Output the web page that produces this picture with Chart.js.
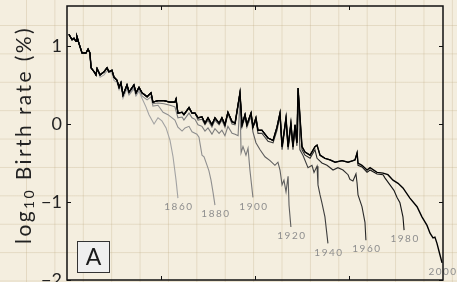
<!DOCTYPE html>
<html>
<head>
<meta charset="utf-8">
<script src="https://cdn.jsdelivr.net/npm/chart.js@4/dist/chart.umd.min.js"></script>
<style>
  html, body { margin: 0; padding: 0; }
  body {
    width: 457px; height: 282px; overflow: hidden;
    background-color: #f4eedf;
    background-image:
      linear-gradient(to right, rgba(190,170,130,0.30) 1px, transparent 1px),
      linear-gradient(to bottom, rgba(190,170,130,0.30) 1px, transparent 1px);
    background-size: 28.4px 28.4px;
    background-position: 26px 25px;
  }
  canvas { display: block; }
</style>
</head>
<body>
<canvas id="Chart" width="457" height="282"></canvas>
<script>
// overall curve (the 2000 series)
let envYears = [1801, 1802.7, 1803.7, 1804.8, 1805.3, 1806.4, 1808, 1810.1, 1811.2, 1812.2, 1812.8, 1814.4, 1815.4, 1816, 1817.6, 1819.7,
  1821.3, 1822.3, 1823.9, 1825, 1826.6, 1827.7, 1828.7, 1829.8, 1831.9, 1833, 1835.6, 1836.7, 1838.3, 1839.9, 1842.6, 1844.7,
  1845.7, 1848.4, 1851.6, 1854.8, 1857.4, 1858, 1859, 1861.2, 1862.2, 1864.9, 1866.5, 1868.1, 1869.7, 1871.8, 1873.4, 1875,
  1877.1, 1878.7, 1880.9, 1882.4, 1884, 1885.6, 1887.8, 1889.4, 1892, 1893.1, 1894.7, 1895.7, 1897.9, 1898.9, 1900.5, 1901.6,
  1903.7, 1905.3, 1906.9, 1909.6, 1911.7, 1913.3, 1914.4, 1916.5, 1917.6, 1919.1, 1920.2, 1921.3, 1922.3, 1922.9, 1925, 1926.6,
  1929.3, 1931.9, 1933, 1934.6, 1937.2, 1939.9, 1942.6, 1946.3, 1949.5, 1952.1, 1953.2, 1954.3, 1954.8, 1956.9, 1959.6, 1961.2,
  1964.9, 1968.1, 1970.7, 1973.4, 1976.1, 1978.7, 1982.4, 1986.2, 1988.8, 1991.5, 1993.1, 1994.7, 1995.7, 1996.8, 1998.4, 1999.5];
let envValues = [1.15, 1.08, 1.10, 1.06, 1.12, 1.03, 0.91, 0.91, 0.96, 0.91, 0.72, 0.67, 0.63, 0.71, 0.63, 0.67,
  0.72, 0.67, 0.69, 0.60, 0.56, 0.47, 0.53, 0.37, 0.50, 0.41, 0.50, 0.40, 0.47, 0.40, 0.35, 0.40,
  0.28, 0.30, 0.30, 0.28, 0.28, 0.32, 0.14, 0.15, 0.12, 0.21, 0.14, 0.14, 0.08, 0.09, 0.01, 0.08,
  -0.01, 0.08, 0.01, 0.08, -0.01, 0.15, 0.03, 0.01, 0.40, -0.01, 0.12, -0.01, 0.14, -0.04, 0.08, -0.08,
  -0.08, -0.13, -0.18, -0.21, -0.04, 0.14, -0.29, 0.08, -0.29, 0.01, -0.29, -0.01, -0.24, 0.46, -0.29, -0.36,
  -0.40, -0.29, -0.27, -0.40, -0.44, -0.46, -0.49, -0.47, -0.49, -0.47, -0.46, -0.37, -0.50, -0.53, -0.59, -0.56,
  -0.62, -0.63, -0.65, -0.72, -0.76, -0.82, -0.95, -1.06, -1.19, -1.30, -1.40, -1.46, -1.45, -1.53, -1.68, -1.78];

// where each earlier series leaves the overall curve: [year, value]
let tail1860 = [[1817.6, 0.60], [1819.7, 0.63], [1821.3, 0.68], [1823.9, 0.65], [1825, 0.56], [1826.6, 0.53], [1827.7, 0.44],
  [1828.7, 0.49], [1829.8, 0.33], [1831.9, 0.45], [1833, 0.37], [1835.6, 0.45], [1836.7, 0.36], [1838.3, 0.42], [1839.9, 0.33],
  [1842, 0.22], [1843.6, 0.12], [1846.3, 0.00], [1848.4, 0.08], [1850.5, 0.04], [1852.7, -0.05], [1854.8, -0.21], [1856.4, -0.42],
  [1858, -0.72], [1859, -0.95]];
let tail1880 = [[1831.9, 0.47], [1833, 0.38], [1835.6, 0.47], [1836.7, 0.37], [1838.3, 0.45], [1839.9, 0.36], [1842.6, 0.31],
  [1844.7, 0.35], [1845.7, 0.23], [1848.4, 0.24], [1851.1, 0.15], [1853.7, 0.12], [1857.4, 0.05], [1859, -0.04], [1861.2, -0.09],
  [1862.8, -0.05], [1864.9, -0.03], [1866.5, -0.10], [1869.1, -0.13], [1870.2, -0.17], [1871.8, -0.40], [1872.9, -0.42],
  [1874.5, -0.53], [1875.5, -0.60], [1876.6, -0.72], [1877.7, -0.88], [1878.7, -1.04]];
let tail1900 = [[1845.7, 0.26], [1848.4, 0.27], [1851.6, 0.26], [1854.8, 0.24], [1857.4, 0.22], [1859, 0.08], [1861.2, 0.09],
  [1862.2, 0.05], [1864.9, 0.14], [1866.5, 0.08], [1868.1, 0.06], [1869.7, -0.01], [1871.8, -0.03], [1873.4, -0.09], [1875, -0.05],
  [1877.1, -0.13], [1878.7, -0.06], [1880.9, -0.12], [1882.4, -0.08], [1884, -0.15], [1885.6, -0.03], [1887.8, -0.12],
  [1889.4, -0.13], [1891, -0.15], [1892, 0.31], [1892.6, -0.37], [1893.6, -0.29], [1895.2, -0.40], [1896.3, -0.31],
  [1897.3, -0.59], [1898.9, -0.94]];
let tail1920 = [[1869.7, 0.05], [1871.8, 0.06], [1873.4, -0.01], [1875, 0.05], [1877.1, -0.04], [1878.7, 0.05], [1880.9, -0.01],
  [1882.4, 0.05], [1884, -0.04], [1885.6, 0.13], [1887.8, 0.00], [1889.4, -0.01], [1892, 0.36], [1893.1, -0.04], [1894.7, 0.09],
  [1895.7, -0.04], [1897.9, 0.10], [1898.9, -0.10], [1900.5, -0.24], [1902.7, -0.33], [1905.3, -0.42], [1908, -0.47],
  [1910.6, -0.53], [1912.2, -0.49], [1913.3, -0.59], [1914.4, -0.78], [1915.4, -0.72], [1916.5, -0.87], [1917.6, -0.67],
  [1918.1, -1.04], [1919.1, -1.32]];
let tail1940 = [[1900.5, 0.04], [1901.6, -0.12], [1903.7, -0.12], [1905.3, -0.17], [1906.9, -0.22], [1909.6, -0.24], [1911.7, -0.08],
  [1913.3, 0.10], [1914.4, -0.33], [1916.5, 0.04], [1917.6, -0.33], [1919.1, -0.03], [1920.2, -0.33], [1921.3, -0.05],
  [1922.3, -0.28], [1922.9, 0.42], [1923.9, -0.33], [1925.5, -0.40], [1928.2, -0.56], [1930.3, -0.53], [1931.4, -0.62],
  [1933, -0.54], [1933.5, -0.78], [1934.6, -0.91], [1935.6, -1.01], [1937.2, -1.19], [1938.8, -1.53]];
let tail1960 = [[1925, -0.33], [1926.6, -0.40], [1929.3, -0.44], [1931.9, -0.33], [1933, -0.44], [1935.6, -0.50], [1938.3, -0.53],
  [1941.5, -0.59], [1944.1, -0.56], [1946.8, -0.59], [1949.5, -0.65], [1950.5, -0.71], [1952.1, -0.73], [1953.7, -0.64],
  [1954.3, -0.76], [1954.8, -0.91], [1956.9, -1.06], [1958.5, -1.26], [1959, -1.49]];
let tail1980 = [[1954.8, -0.53], [1956.9, -0.55], [1959.6, -0.62], [1961.2, -0.59], [1964.9, -0.64], [1968.1, -0.65],
  [1969.1, -0.69], [1971.8, -0.78], [1973.9, -0.85], [1975.5, -0.94], [1977.1, -1.01], [1978.7, -1.19], [1979.3, -1.36]];

let cohortLabels = ['1860', '1880', '1900', '1920', '1940', '1960', '1980', '2000'];
let cohortTails = [tail1860, tail1880, tail1900, tail1920, tail1940, tail1960, tail1980, null];
let yTicks = [-2, -1, 0, 1];
let xTicks = [1850, 1900, 1950];

let lineColors = ['#a3a3a3', '#909090', '#7c7c7c', '#5e5e5e', '#3e3e3e', '#2a2a2a', '#161616', '#000000'];

function buildSeries(tail) {
    let pts = [];
    let start = tail ? tail[0][0] : Infinity;
    envYears.forEach(function (x, i) {
        if (x < start) pts.push({ x: x, y: envValues[i] });
    });
    if (tail) tail.forEach(function (p) { pts.push({ x: p[0], y: p[1] }); });
    return pts;
}

let datasets = cohortLabels.map(function (lab, i) {
    return {
        label: lab,
        data: buildSeries(cohortTails[i]),
        borderColor: lineColors[i],
        borderWidth: i == 7 ? 1.4 : 1.1,
        pointRadius: 0,
        tension: 0,
        fill: false,
        order: 7 - i
    };
});

function tickText(v) { return v < 0 ? '\u2212' + Math.abs(v) : String(v); }

// frame, inward ticks, tick labels, y title, cohort labels and the "A" box
const decorations = {
    id: 'decorations',
    afterDatasetsDraw(chart) {
        const ctx = chart.ctx;
        const xs = chart.scales.x, ys = chart.scales.y;
        ctx.save();
        ctx.font = '10px Lato';
        ctx.letterSpacing = '1.5px';
        ctx.fillStyle = '#8e8e8e';
        ctx.textAlign = 'center';
        ctx.textBaseline = 'middle';
        chart.data.datasets.forEach(function (ds) {
            let last = ds.data[ds.data.length - 1];
            ctx.fillText(ds.label, xs.getPixelForValue(last.x) + 1, ys.getPixelForValue(last.y) + 9);
        });
        ctx.restore();
    },
    afterDraw(chart) {
        const ctx = chart.ctx, a = chart.chartArea;
        const xs = chart.scales.x, ys = chart.scales.y;
        ctx.save();
        ctx.strokeStyle = '#111';
        ctx.lineWidth = 1.5;
        ctx.strokeRect(a.left, a.top, a.right - a.left, a.bottom - a.top);
        ctx.lineWidth = 1;
        ctx.beginPath();
        yTicks.forEach(function (v) {
            let y = Math.round(ys.getPixelForValue(v)) + 0.5;
            ctx.moveTo(a.left, y); ctx.lineTo(a.left + 4, y);
            ctx.moveTo(a.right, y); ctx.lineTo(a.right - 4, y);
        });
        xTicks.forEach(function (v) {
            let x = Math.round(xs.getPixelForValue(v)) + 0.5;
            ctx.moveTo(x, a.top); ctx.lineTo(x, a.top + 4);
            ctx.moveTo(x, a.bottom); ctx.lineTo(x, a.bottom - 4);
        });
        ctx.stroke();

        // y tick labels
        ctx.fillStyle = '#222';
        ctx.font = '18px Lato';
        ctx.textAlign = 'right';
        ctx.textBaseline = 'middle';
        yTicks.forEach(function (v) {
            ctx.fillText(tickText(v), a.left - 5, ys.getPixelForValue(v));
        });

        // y axis title with subscript
        ctx.translate(24, 135);
        ctx.rotate(-Math.PI / 2);
        ctx.textBaseline = 'middle';
        ctx.textAlign = 'left';
        ctx.letterSpacing = '2.4px';
        const big = '21px Lato', small = '14px Lato';
        ctx.font = big;
        let w1 = ctx.measureText('log').width;
        let w3 = ctx.measureText(' Birth rate (%)').width;
        ctx.font = small;
        let w2 = ctx.measureText('10').width;
        let x0 = -(w1 + w2 + w3) / 2;
        ctx.font = big; ctx.fillText('log', x0, 0);
        ctx.font = small; ctx.fillText('10', x0 + w1, 5);
        ctx.font = big; ctx.fillText(' Birth rate (%)', x0 + w1 + w2, 0);
        ctx.restore();

        // panel letter
        ctx.save();
        ctx.fillStyle = '#efefef';
        ctx.strokeStyle = '#333';
        ctx.lineWidth = 1;
        ctx.fillRect(77.5, 241.5, 32, 31);
        ctx.strokeRect(77.5, 241.5, 32, 31);
        ctx.fillStyle = '#1a1a1a';
        ctx.font = '23px Lato';
        ctx.textAlign = 'center';
        ctx.textBaseline = 'middle';
        ctx.fillText('A', 93.5, 258);
        ctx.restore();
    }
};

let ctx = document.getElementById('Chart').getContext('2d');
let myChart = new Chart(ctx, {
    type: 'line',
    data: { datasets: datasets },
    options: {
        responsive: false,
        animation: false,
        layout: { padding: { top: 6, right: 14, bottom: 2, left: 0 } },
        scales: {
            x: { type: 'linear', min: 1800, max: 2000, display: false },
            y: {
                min: -2, max: 1.513,
                afterBuildTicks: function (scale) { scale.ticks = yTicks.map(function (v) { return { value: v }; }); },
                afterFit: function (scale) { scale.width = 67; },
                grid: { display: false, drawTicks: false },
                border: { display: false },
                ticks: { display: false }
            }
        },
        plugins: { legend: { display: false }, tooltip: { enabled: false } }
    },
    plugins: [decorations]
});
</script>
</body>
</html>
